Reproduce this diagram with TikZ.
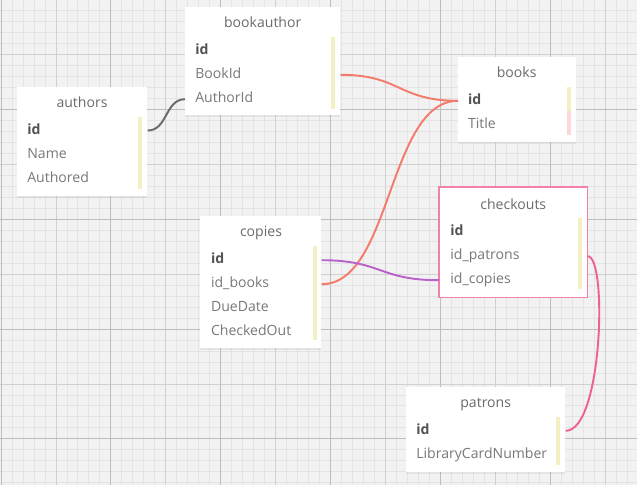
\documentclass[tikz,border=0pt]{standalone}
\usepackage{fontspec}
\setmainfont{Open Sans}
\usetikzlibrary{shadows}
\definecolor{gridbg}{HTML}{F2F2F2}
\definecolor{gridmin}{HTML}{E4E4E4}
\definecolor{gridmid}{HTML}{D0D0D0}
\definecolor{gridmaj}{HTML}{BDBDBD}
\definecolor{keybar}{HTML}{F3F0C4}
\definecolor{pinkbar}{HTML}{FDD8DA}
\definecolor{lgray}{HTML}{6A6A6A}
\definecolor{lsalmon}{HTML}{F47B6B}
\definecolor{lpurple}{HTML}{B962CA}
\definecolor{lpink}{HTML}{EE6292}
\definecolor{selframe}{RGB}{242,128,172}

\begin{document}
\begin{tikzpicture}[x=0.02cm, y=-0.02cm,
  tbl/.style={rectangle, fill=white, anchor=north west, inner sep=0pt,
              drop shadow={opacity=0.12, shadow xshift=0pt, shadow yshift=-1.2pt}},
  ttl/.style={font=\fontsize{8}{9}\selectfont, text=black!58, inner sep=0pt,
              text height=6pt, text depth=2pt},
  fld/.style={anchor=west, font=\fontsize{8}{9}\selectfont, text=black!53,
              inner sep=0pt, text height=6pt, text depth=2pt},
  key/.style={fld, font=\fontsize{8}{9}\selectfont\bfseries, text=black!68},
  link/.style={line width=1.1pt}
]
  % squared paper
  \begin{scope}
    \clip (0,0) rectangle (637,485);
    \fill[gridbg] (0,0) rectangle (637,485);
    \foreach \k in {0,...,58}
      \draw[gridmin, line width=0.5pt] ({1+10.99*\k},0) -- ++(0,485);
    \foreach \k in {0,...,45}
      \draw[gridmin, line width=0.5pt] (0,{-0.7+10.99*\k}) -- ++(637,0);
    \foreach \k in {0,5,...,55}
      \draw[gridmid, line width=0.5pt] ({1+10.99*\k},0) -- ++(0,485);
    \foreach \k in {0,5,...,45}
      \draw[gridmid, line width=0.5pt] (0,{-0.7+10.99*\k}) -- ++(637,0);
    \foreach \k in {0,10,...,50}
      \draw[gridmaj, line width=0.5pt] ({1+10.99*\k},0) -- ++(0,485);
    \foreach \k in {0,10,...,40}
      \draw[gridmaj, line width=0.5pt] (0,{-0.7+10.99*\k}) -- ++(637,0);
  \end{scope}

  % authors
  \node[tbl, minimum width=2.6cm, minimum height=2.18cm] (authors) at (17,87) {};
  \fill[keybar] (138,117) rectangle (142,189);
  \node[ttl] (authors_t) at (82,104) {authors};
  \node[key] (authors_id)   at (27,130.5) {id};
  \node[fld] (authors_name) at (27,155.2) {Name};
  \node[fld] (authors_auth) at (27,178.8) {Authored};

  % bookauthor
  \node[tbl, minimum width=3.1cm, minimum height=2.16cm] (ba) at (185,7) {};
  \fill[keybar] (331,37) rectangle (335,109);
  \node[ttl] (ba_t) at (262.7,24) {bookauthor};
  \node[key] (ba_id)  at (195,50.8) {id};
  \node[fld] (ba_bid) at (195,74.8) {BookId};
  \node[fld] (ba_aid) at (195,99.2) {AuthorId};

  % books
  \node[tbl, minimum width=2.36cm, minimum height=1.7cm] (books) at (458,57) {};
  \fill[keybar] (567,87) rectangle (571,111);
  \fill[pinkbar] (567,111) rectangle (571,135);
  \node[ttl] (books_t) at (516.7,73.8) {books};
  \node[key] (books_id)  at (467.7,100.8) {id};
  \node[fld] (books_ttl) at (467.7,124.8) {Title};

  % checkouts (selected)
  \node[rectangle, fill=white, anchor=north west, inner sep=0pt,
        minimum width=2.96cm, minimum height=2.2cm] (co) at (439,187) {};
  \draw[selframe, line width=0.65pt] (co.north west) rectangle (co.south east);
  \fill[keybar] (578,218) rectangle (582,289);
  \node[ttl] (co_t) at (513.3,205.5) {checkouts};
  \node[key] (co_id)  at (450,232.2) {id};
  \node[fld] (co_pid) at (450,256.2) {id\_patrons};
  \node[fld] (co_cid) at (450,280.2) {id\_copies};

  % copies
  \node[tbl, minimum width=2.42cm, minimum height=2.64cm] (copies) at (200,216) {};
  \fill[keybar] (313,246) rectangle (317,340);
  \node[ttl] (copies_t) at (261,233.2) {copies};
  \node[key] (copies_id)  at (210.7,260.2) {id};
  \node[fld] (copies_bid) at (210.7,284.2) {id\_books};
  \node[fld] (copies_due) at (210.7,308.2) {DueDate};
  \node[fld] (copies_out) at (210.7,332.2) {CheckedOut};

  % patrons
  \node[tbl, minimum width=3.18cm, minimum height=1.7cm] (patrons) at (406,387) {};
  \fill[keybar] (556,417) rectangle (560,465);
  \node[ttl] (patrons_t) at (485.7,404.2) {patrons};
  \node[key] (patrons_id)  at (416,430.8) {id};
  \node[fld] (patrons_lcn) at (416,454.8) {LibraryCardNumber};

  % relations
  \draw[link, lgray] (authors.east |- authors_id)
    .. controls +(20,0) and +(-20,0) .. (ba.west |- ba_aid);
  \draw[link, lsalmon] (ba.east |- ba_bid)
    .. controls +(60,0) and +(-60,0) .. (books.west |- books_id);
  \draw[link, lsalmon] (copies.east |- copies_bid)
    .. controls +(70,0) and +(-70,0) .. (books.west |- books_id);
  \draw[link, lpurple] (copies.east |- copies_id)
    .. controls +(60,0) and +(-60,0) .. (co.west |- co_cid);
  \draw[link, lpink] (co.east |- co_pid)
    .. controls +(20,0) and +(37,0) .. (patrons.east |- patrons_id);
\end{tikzpicture}
\end{document}
